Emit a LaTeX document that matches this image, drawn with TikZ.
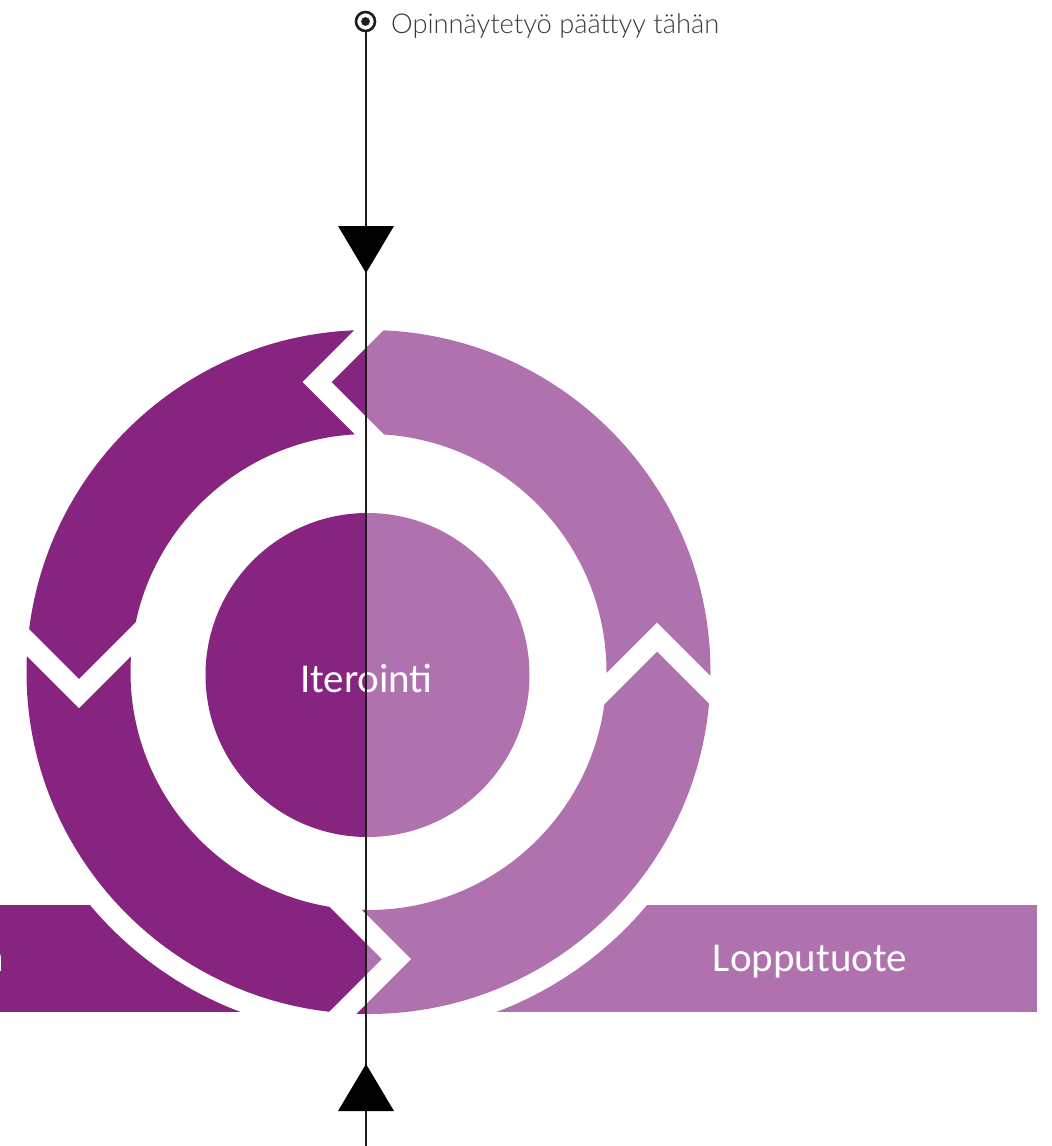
\documentclass[tikz,border=0pt]{standalone}
\usepackage{fontspec}
\setmainfont{Carlito}
\newfontfamily\lightfont{Lato Light}
\definecolor{dkp}{HTML}{86247F}
\definecolor{ltp}{HTML}{B072AE}
\definecolor{linec}{HTML}{1E1E1E}
\definecolor{toptext}{HTML}{3A3A3A}
\begin{document}
\begin{tikzpicture}[x=1pt,y=-1pt,
  gapline/.style={draw=white, line width=20.5pt, line join=miter, miter limit=10},
  lbl/.style={text=white, font=\fontsize{41}{41}\selectfont, inner sep=0pt},
  tri/.style={fill=black},
]
\useasboundingbox (0,0) rectangle (1052,1146);
% bars
\begin{scope}
  \clip (0,0) rectangle (1052,1146);
  \fill[dkp] (-20,905) rectangle (420,1012);
  \fill[ltp] (320,905) rectangle (1037,1012);
  \node[lbl, anchor=base east] (leftlbl) at (4.3,971.5) {n};
\end{scope}
\node[lbl, anchor=base] (lopputuote) at (810,971.5) {Lopputuote};
% white ring separating bars from the cycle
\fill[white] (368.5,672) circle (363);
% cycle ring, dark left / light right
\begin{scope}
  \clip (0,0) rectangle (366.5,1146);
  \fill[dkp, even odd rule] (368.5,672) circle (342) (368.5,672) circle (238);
  \fill[dkp] (367.5,675) circle (162);
\end{scope}
\begin{scope}
  \clip (366.5,0) rectangle (1052,1146);
  \fill[ltp, even odd rule] (368.5,672) circle (342) (368.5,672) circle (238);
  \fill[ltp] (367.5,675) circle (162);
\end{scope}
% chevron gaps
\draw[gapline] (13,627.5) -- (79,693.5) -- (145,627.5);
\draw[gapline] (383,316) -- (317,382) -- (383,448);
\draw[gapline] (591,703) -- (657,637) -- (723,703);
\draw[gapline] (330.5,893) -- (396.5,959) -- (330.5,1025);
% center label
\node[lbl, anchor=base] (iter) at (366.5,692) {Iterointi};
% marker and vertical line
\node[circle, draw=linec, line width=2.6pt, minimum size=19pt, inner sep=0pt] (mk) at (365.5,21.5) {};
\fill[linec] (mk.center) circle (4.4);
\coordinate (bot) at (366.5,1146);
\draw[linec, line width=2pt] (mk.south) -- (mk.south |- bot);
\node[anchor=base west, inner sep=0pt, text=toptext, font=\lightfont\fontsize{27.3}{27.3}\selectfont] (toplbl) at (391,33) {Opinnäytetyö päättyy tähän};
% triangles
\fill[tri] (338,226) -- (394,226) -- (366,273) -- cycle;
\fill[tri] (366,1064) -- (394,1111) -- (338,1111) -- cycle;
\end{tikzpicture}
\end{document}
